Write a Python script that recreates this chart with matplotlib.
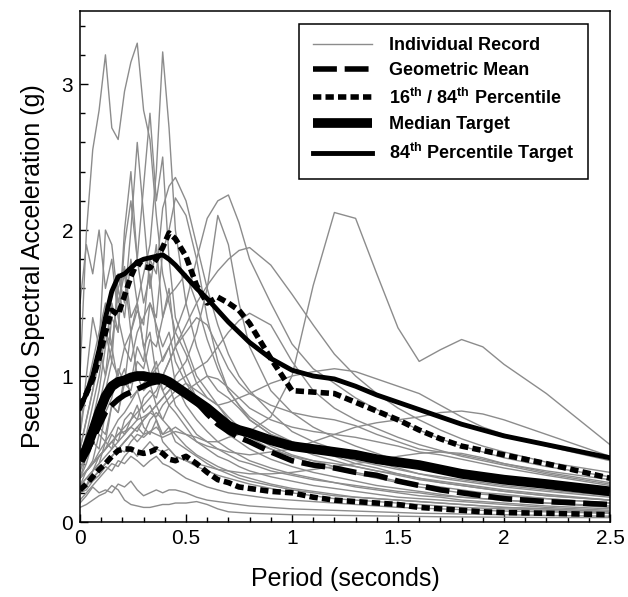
import matplotlib
matplotlib.use('Agg')
import matplotlib.pyplot as plt
from matplotlib.ticker import MultipleLocator

plt.rcParams['font.family'] = ['Liberation Sans', 'DejaVu Sans']
plt.rcParams['mathtext.default'] = 'regular'

# Period grid (seconds)
period = [0.00, 0.03, 0.06, 0.09, 0.12, 0.15, 0.18, 0.21, 0.24, 0.27, 0.30, 0.33, 0.36, 0.39, 0.42, 0.45,
          0.50, 0.55, 0.60, 0.65, 0.70, 0.75, 0.80, 0.90,
          1.00, 1.10, 1.20, 1.30, 1.40, 1.50, 1.60, 1.70, 1.80, 1.90, 2.00, 2.20, 2.50]

# Summary curves (g)
median_target = [0.42, 0.50, 0.62, 0.75, 0.86, 0.93, 0.96, 0.97, 0.99, 1.00, 1.00, 0.99, 0.99, 0.98, 0.96, 0.93,
                 0.88, 0.83, 0.78, 0.72, 0.66, 0.63, 0.61, 0.56,
                 0.52, 0.50, 0.48, 0.46, 0.43, 0.41, 0.39, 0.36, 0.33, 0.31, 0.29, 0.26, 0.21]
target_84 = [0.78, 0.88, 1.00, 1.18, 1.40, 1.58, 1.68, 1.70, 1.74, 1.78, 1.80, 1.81, 1.82, 1.83, 1.80, 1.76,
             1.68, 1.60, 1.53, 1.45, 1.37, 1.30, 1.23, 1.12,
             1.04, 1.00, 0.98, 0.93, 0.87, 0.82, 0.77, 0.72, 0.67, 0.63, 0.59, 0.53, 0.44]
geo_mean = [0.42, 0.48, 0.56, 0.66, 0.75, 0.80, 0.84, 0.87, 0.89, 0.91, 0.93, 0.95, 0.96, 0.96, 0.94, 0.92,
            0.89, 0.82, 0.74, 0.67, 0.62, 0.58, 0.55, 0.48,
            0.42, 0.39, 0.37, 0.34, 0.32, 0.28, 0.25, 0.22, 0.20, 0.18, 0.16, 0.14, 0.12]
pct_16 = [0.22, 0.26, 0.31, 0.36, 0.40, 0.45, 0.49, 0.50, 0.50, 0.48, 0.47, 0.48, 0.50, 0.47, 0.43, 0.42,
          0.45, 0.40, 0.34, 0.29, 0.27, 0.24, 0.23, 0.21,
          0.20, 0.17, 0.15, 0.14, 0.13, 0.12, 0.10, 0.09, 0.08, 0.07, 0.065, 0.06, 0.05]
pct_84 = [0.79, 0.88, 0.98, 1.12, 1.30, 1.45, 1.42, 1.55, 1.68, 1.78, 1.75, 1.74, 1.80, 1.88, 1.98, 1.94,
          1.82, 1.62, 1.50, 1.54, 1.50, 1.45, 1.36, 1.12,
          0.90, 0.89, 0.88, 0.82, 0.76, 0.70, 0.63, 0.57, 0.52, 0.49, 0.46, 0.40, 0.30]

# Individual records (g)
rec01 = [1.00, 1.98, 2.55, 2.82, 3.20, 2.70, 2.62, 2.95, 3.15, 3.28, 2.82, 2.62, 2.10, 1.70, 1.50, 1.30,
         1.15, 0.95, 0.85, 0.80, 0.70, 0.62, 0.55, 0.50,
         0.45, 0.40, 0.36, 0.33, 0.30, 0.27, 0.24, 0.22, 0.20, 0.19, 0.18, 0.16, 0.13]
rec02 = [0.60, 0.90, 1.10, 1.30, 1.50, 1.20, 1.60, 1.40, 1.80, 1.50, 1.70, 1.90, 2.40, 3.22, 2.70, 2.00,
         1.50, 1.20, 1.00, 0.90, 0.85, 0.78, 0.70, 0.60,
         0.55, 0.50, 0.45, 0.40, 0.37, 0.33, 0.30, 0.27, 0.25, 0.23, 0.21, 0.18, 0.15]
rec03 = [0.50, 0.70, 0.90, 1.20, 1.00, 1.40, 1.30, 1.90, 2.20, 1.80, 2.30, 2.80, 2.20, 2.50, 1.80, 1.40,
         1.20, 1.00, 0.90, 0.80, 0.72, 0.65, 0.60, 0.52,
         0.46, 0.42, 0.38, 0.34, 0.31, 0.28, 0.26, 0.24, 0.22, 0.20, 0.19, 0.16, 0.13]
rec04 = [0.45, 0.60, 0.80, 1.00, 1.30, 1.10, 1.70, 1.50, 2.00, 2.60, 2.10, 1.60, 1.90, 1.40, 1.60, 1.20,
         1.00, 0.85, 0.75, 0.68, 0.60, 0.55, 0.50, 0.43,
         0.38, 0.34, 0.31, 0.28, 0.25, 0.23, 0.21, 0.19, 0.17, 0.16, 0.15, 0.13, 0.10]
rec05 = [0.35, 0.50, 0.70, 0.90, 1.20, 1.50, 1.30, 2.00, 2.40, 1.80, 1.50, 1.70, 1.30, 1.10, 1.20, 0.95,
         0.80, 0.70, 0.62, 0.55, 0.50, 0.46, 0.42, 0.37,
         0.33, 0.30, 0.27, 0.24, 0.22, 0.20, 0.18, 0.17, 0.15, 0.14, 0.13, 0.11, 0.09]
rec06 = [0.60, 1.00, 1.40, 1.20, 2.00, 1.90, 1.50, 1.70, 1.30, 1.50, 1.20, 1.00, 1.10, 0.90, 0.80, 0.75,
         0.65, 0.55, 0.50, 0.45, 0.42, 0.38, 0.35, 0.31,
         0.28, 0.25, 0.23, 0.21, 0.19, 0.17, 0.16, 0.15, 0.14, 0.13, 0.12, 0.10, 0.08]
rec07 = [0.30, 0.40, 0.55, 0.50, 0.75, 0.85, 1.05, 0.95, 1.30, 1.45, 1.35, 1.80, 1.70, 2.15, 2.30, 2.36,
         2.20, 1.90, 1.60, 1.35, 1.15, 1.00, 0.90, 0.75,
         0.62, 0.55, 0.50, 0.45, 0.41, 0.37, 0.33, 0.30, 0.28, 0.26, 0.24, 0.21, 0.17]
rec08 = [0.25, 0.35, 0.42, 0.60, 0.55, 0.80, 0.75, 1.00, 0.95, 1.20, 1.10, 1.50, 1.40, 1.85, 2.00, 2.22,
         2.10, 1.80, 1.40, 1.10, 0.90, 0.80, 0.70, 0.60,
         0.52, 0.46, 0.42, 0.38, 0.35, 0.32, 0.29, 0.27, 0.25, 0.23, 0.21, 0.18, 0.15]
rec09 = [0.30, 0.35, 0.40, 0.48, 0.55, 0.62, 0.70, 0.75, 0.82, 0.90, 0.95, 1.00, 1.05, 1.12, 1.20, 1.30,
         1.50, 1.80, 2.08, 2.20, 2.24, 2.05, 1.80, 1.50,
         1.22, 1.05, 0.95, 0.85, 0.77, 0.70, 0.63, 0.57, 0.52, 0.48, 0.44, 0.38, 0.31]
rec10 = [0.20, 0.25, 0.30, 0.35, 0.40, 0.45, 0.50, 0.55, 0.60, 0.65, 0.70, 0.75, 0.80, 0.85, 0.90, 1.00,
         1.10, 1.30, 1.60, 2.10, 1.90, 1.50, 1.20, 0.90,
         0.75, 0.65, 0.58, 0.52, 0.47, 0.42, 0.38, 0.35, 0.32, 0.30, 0.28, 0.24, 0.20]
rec11 = [0.30, 0.35, 0.40, 0.45, 0.50, 0.55, 0.60, 0.65, 0.70, 0.75, 0.80, 0.85, 0.90, 1.00, 1.10, 1.20,
         1.35, 1.50, 1.62, 1.72, 1.80, 1.86, 1.88, 1.76,
         1.56, 1.35, 1.15, 1.00, 0.88, 0.78, 0.70, 0.63, 0.57, 0.52, 0.48, 0.41, 0.34]
rec12 = [0.30, 0.35, 0.40, 0.45, 0.50, 0.55, 0.50, 0.55, 0.60, 0.55, 0.60, 0.62, 0.60, 0.58, 0.60, 0.62,
         0.60, 0.58, 0.55, 0.55, 0.58, 0.60, 0.62, 0.72,
         1.00, 1.62, 2.12, 2.08, 1.70, 1.33, 1.10, 1.18, 1.25, 1.20, 1.08, 0.88, 0.53]
rec13 = [0.25, 0.30, 0.35, 0.40, 0.45, 0.50, 0.55, 0.60, 0.65, 0.62, 0.70, 0.75, 0.72, 0.80, 0.85, 0.90,
         0.95, 0.90, 0.85, 0.80, 0.82, 0.85, 0.88, 0.95,
         1.00, 1.03, 1.05, 1.03, 0.98, 0.93, 0.88, 0.80, 0.72, 0.65, 0.60, 0.52, 0.42]
rec14 = [0.20, 0.25, 0.30, 0.35, 0.40, 0.45, 0.50, 0.48, 0.55, 0.60, 0.58, 0.62, 0.65, 0.60, 0.62, 0.65,
         0.60, 0.55, 0.52, 0.50, 0.48, 0.47, 0.46, 0.48,
         0.50, 0.55, 0.60, 0.65, 0.68, 0.70, 0.72, 0.75, 0.76, 0.74, 0.70, 0.60, 0.45]
rec15 = [0.15, 0.20, 0.25, 0.30, 0.35, 0.40, 0.38, 0.45, 0.50, 0.45, 0.50, 0.55, 0.50, 0.48, 0.50, 0.45,
         0.42, 0.40, 0.38, 0.36, 0.35, 0.34, 0.33, 0.33,
         0.34, 0.36, 0.38, 0.40, 0.42, 0.45, 0.47, 0.48, 0.47, 0.44, 0.40, 0.35, 0.29]
rec16 = [0.10, 0.12, 0.15, 0.18, 0.20, 0.25, 0.22, 0.15, 0.12, 0.11, 0.10, 0.10, 0.11, 0.12, 0.12, 0.13,
         0.13, 0.14, 0.12, 0.09, 0.07, 0.065, 0.06, 0.055,
         0.05, 0.048, 0.046, 0.044, 0.042, 0.04, 0.038, 0.036, 0.035, 0.034, 0.033, 0.031, 0.03]
rec17 = [0.13, 0.18, 0.24, 0.20, 0.22, 0.20, 0.26, 0.24, 0.28, 0.22, 0.18, 0.20, 0.22, 0.20, 0.22, 0.22,
         0.20, 0.17, 0.15, 0.14, 0.13, 0.12, 0.11, 0.10,
         0.09, 0.085, 0.08, 0.075, 0.07, 0.065, 0.06, 0.058, 0.055, 0.052, 0.05, 0.045, 0.04]
rec18 = [0.50, 0.70, 0.90, 1.10, 1.30, 1.20, 1.60, 1.75, 1.40, 1.50, 1.20, 1.30, 1.00, 0.90, 0.95, 0.80,
         0.70, 0.60, 0.55, 0.50, 0.46, 0.42, 0.40, 0.35,
         0.32, 0.29, 0.27, 0.25, 0.23, 0.21, 0.20, 0.18, 0.17, 0.16, 0.15, 0.13, 0.11]
rec19 = [0.40, 0.50, 0.60, 0.80, 0.90, 1.10, 1.00, 1.20, 1.10, 1.30, 1.40, 1.50, 1.35, 1.20, 1.30, 1.10,
         0.95, 0.85, 0.75, 0.70, 0.66, 0.62, 0.58, 0.50,
         0.45, 0.42, 0.40, 0.38, 0.35, 0.33, 0.30, 0.28, 0.26, 0.24, 0.22, 0.19, 0.15]
rec20 = [0.30, 0.45, 0.60, 0.80, 1.00, 1.20, 0.95, 1.05, 0.85, 0.90, 0.75, 0.80, 0.70, 0.60, 0.65, 0.55,
         0.50, 0.45, 0.40, 0.36, 0.33, 0.30, 0.28, 0.25,
         0.22, 0.20, 0.18, 0.17, 0.16, 0.15, 0.14, 0.13, 0.12, 0.11, 0.10, 0.09, 0.07]
rec21 = [0.25, 0.30, 0.35, 0.45, 0.50, 0.60, 0.55, 0.70, 0.75, 0.70, 0.85, 0.90, 0.85, 1.00, 1.10, 1.20,
         1.30, 1.40, 1.35, 1.20, 1.05, 0.95, 0.88, 0.80,
         0.75, 0.72, 0.70, 0.66, 0.60, 0.55, 0.50, 0.48, 0.46, 0.43, 0.40, 0.34, 0.27]
rec22 = [0.20, 0.25, 0.30, 0.35, 0.40, 0.45, 0.50, 0.55, 0.60, 0.65, 0.60, 0.70, 0.75, 0.70, 0.80, 0.85,
         0.90, 0.95, 1.00, 0.98, 0.92, 0.85, 0.78, 0.70,
         0.65, 0.62, 0.60, 0.58, 0.55, 0.52, 0.48, 0.46, 0.43, 0.40, 0.37, 0.32, 0.25]
rec23 = [0.20, 0.25, 0.35, 0.40, 0.55, 0.50, 0.65, 0.60, 0.70, 0.80, 0.65, 0.60, 0.70, 0.55, 0.50, 0.45,
         0.42, 0.38, 0.35, 0.32, 0.30, 0.28, 0.26, 0.23,
         0.20, 0.18, 0.16, 0.15, 0.14, 0.13, 0.12, 0.11, 0.10, 0.095, 0.09, 0.08, 0.06]
rec24 = [0.20, 0.22, 0.28, 0.32, 0.38, 0.35, 0.42, 0.40, 0.45, 0.42, 0.38, 0.42, 0.45, 0.40, 0.38, 0.35,
         0.30, 0.27, 0.24, 0.22, 0.20, 0.19, 0.18, 0.16,
         0.15, 0.14, 0.13, 0.12, 0.11, 0.10, 0.095, 0.09, 0.085, 0.08, 0.075, 0.07, 0.06]
rec25 = [0.30, 0.35, 0.40, 0.45, 0.50, 0.55, 0.60, 0.62, 0.65, 0.70, 0.72, 0.75, 0.80, 0.85, 0.90, 0.95,
         1.00, 1.05, 1.10, 1.20, 1.30, 1.38, 1.43, 1.35,
         1.10, 0.90, 0.78, 0.70, 0.64, 0.58, 0.53, 0.49, 0.45, 0.42, 0.39, 0.33, 0.26]
rec26 = [1.50, 1.90, 1.70, 2.00, 1.60, 1.80, 1.40, 1.20, 1.30, 1.00, 0.90, 0.95, 0.80, 0.70, 0.65, 0.60,
         0.52, 0.46, 0.42, 0.38, 0.35, 0.32, 0.30, 0.26,
         0.23, 0.21, 0.19, 0.17, 0.16, 0.15, 0.14, 0.13, 0.12, 0.11, 0.10, 0.09, 0.07]
rec27 = [0.35, 0.45, 0.55, 0.65, 0.60, 0.80, 0.75, 0.95, 0.90, 1.10, 1.05, 1.25, 1.20, 1.40, 1.55, 1.60,
         1.70, 1.50, 1.25, 1.05, 0.90, 0.80, 0.72, 0.62,
         0.55, 0.50, 0.46, 0.42, 0.39, 0.36, 0.33, 0.31, 0.29, 0.27, 0.25, 0.22, 0.18]

records = [rec01, rec02, rec03, rec04, rec05, rec06, rec07, rec08, rec09, rec10, rec11, rec12, rec13, rec14,
           rec15, rec16, rec17, rec18, rec19, rec20, rec21, rec22, rec23, rec24, rec25, rec26, rec27]

fig = plt.figure(figsize=(6.28, 5.97), dpi=100)
ax = fig.add_axes([0.1274, 0.1256, 0.8439, 0.8559])

# gray individual records
for i, rec in enumerate(records):
    ax.plot(period, rec, color='#8c8c8c', lw=1.0,
            label='Individual Record' if i == 0 else None)

ax.plot(period, geo_mean, color='black', lw=4, dashes=(4.3, 1.4), label='Geometric Mean')
ax.plot(period, pct_16, color='black', lw=4, dashes=(1.5, 0.75), label='16$^{th}$ / 84$^{th}$ Percentile')
ax.plot(period, pct_84, color='black', lw=4, dashes=(1.5, 0.75))
ax.plot(period, median_target, color='black', lw=7, solid_capstyle='butt', label='Median Target')
ax.plot(period, target_84, color='black', lw=3.5, label='84$^{th}$ Percentile Target')

ax.set_xlim(0, 2.5)
ax.set_ylim(0, 3.5)
ax.xaxis.set_major_locator(MultipleLocator(0.5))
ax.xaxis.set_minor_locator(MultipleLocator(0.1))
ax.yaxis.set_major_locator(MultipleLocator(1))
ax.yaxis.set_minor_locator(MultipleLocator(0.2))
ax.set_xticks([0, 0.5, 1, 1.5, 2, 2.5])
ax.set_xticklabels(['0', '0.5', '1', '1.5', '2', '2.5'])
ax.tick_params(which='both', direction='in', top=False, right=False, labelsize=15)
ax.tick_params(which='major', length=6, width=1, pad=5)
ax.tick_params(which='minor', length=3.5, width=1)
for s in ax.spines.values():
    s.set_linewidth(1.1)

ax.set_xlabel('Period (seconds)', fontsize=18, labelpad=14)
ax.set_ylabel('Pseudo Spectral Acceleration (g)', fontsize=18, labelpad=12)

leg = ax.legend(loc='upper right', bbox_to_anchor=(0.958, 0.975), borderaxespad=0,
                fancybox=False, framealpha=1, edgecolor='black', handlelength=3.3,
                handletextpad=0.9, labelspacing=0.45, borderpad=0.75,
                prop={'weight': 'bold', 'size': 13})
leg.get_frame().set_linewidth(1.1)

fig.savefig('out.png', dpi=100)
